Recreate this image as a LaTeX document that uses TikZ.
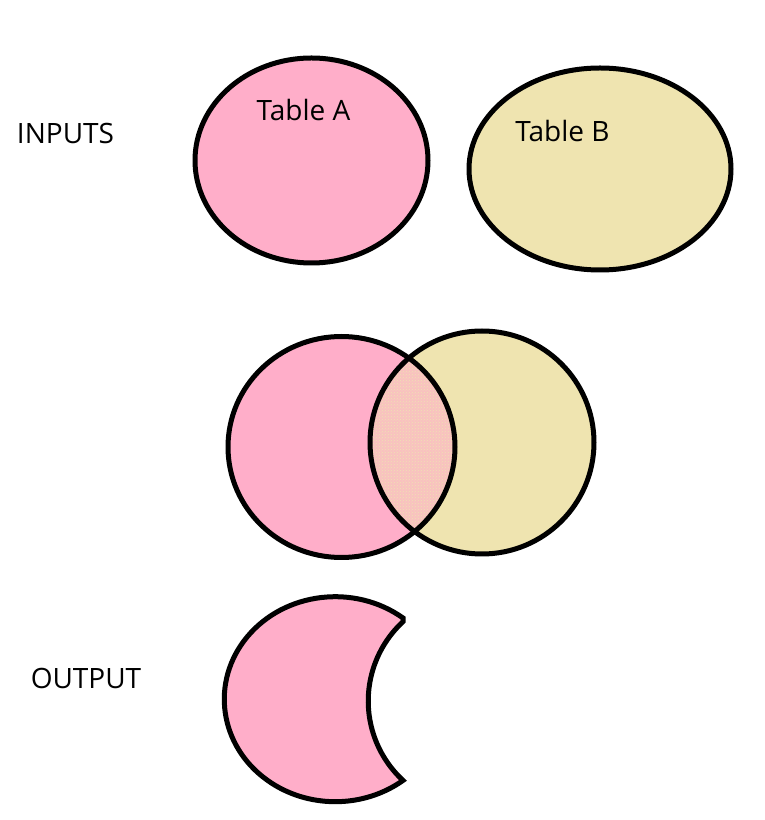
\documentclass[tikz,border=0pt]{standalone}
\usepackage{fontspec}
\setmainfont{Open Sans}
\usepackage{tikz}
\usetikzlibrary{patterns}
\definecolor{pinkA}{RGB}{255,174,201}
\definecolor{tanB}{RGB}{239,228,176}

\begin{document}
\begin{tikzpicture}[x=1pt, y=1pt,
	outline/.style={draw=black, line width=5pt},
	lbl/.style={font=\fontsize{28}{33}\selectfont, inner sep=0pt}]
	\useasboundingbox (0,0) rectangle (765,820);
	% inputs
	\path[outline, fill=pinkA] (311.5,659.5) ellipse [x radius=116.5, y radius=102.5];
	\path[outline, fill=tanB] (600,651) ellipse [x radius=131, y radius=101];
	\node[lbl] (ta) at (303.5,710) {Table A};
	\node[lbl] (tb) at (562.5,689) {Table B};
	\node[lbl] (in) at (65.5,686) {INPUTS};
	% join
	\fill[pinkA] (341.5,373) ellipse [x radius=113.5, y radius=110.5];
	\fill[tanB] (482,377.5) ellipse [x radius=112, y radius=111.5];
	\begin{scope}
		\clip (341.5,373) ellipse [x radius=113.5, y radius=110.5];
		\fill[pinkA!65!tanB] (482,377.5) ellipse [x radius=112, y radius=111.5];
		\fill[pattern=crosshatch dots, pattern color=tanB] (482,377.5) ellipse [x radius=112, y radius=111.5];
	\end{scope}
	\draw[outline] (341.5,373) ellipse [x radius=113.5, y radius=110.5];
	\draw[outline] (482,377.5) ellipse [x radius=112, y radius=111.5];
	% output
	\coordinate (tip1) at (403,202);
	\path[outline, fill=pinkA, line join=miter] (tip1)
		arc [start angle=52.4, end angle=307.6, x radius=111, y radius=102.5]
		arc [start angle=227.3, end angle=132.7, radius=108] -- cycle;
	\node[lbl] (out) at (86,142) {OUTPUT};
\end{tikzpicture}
\end{document}
